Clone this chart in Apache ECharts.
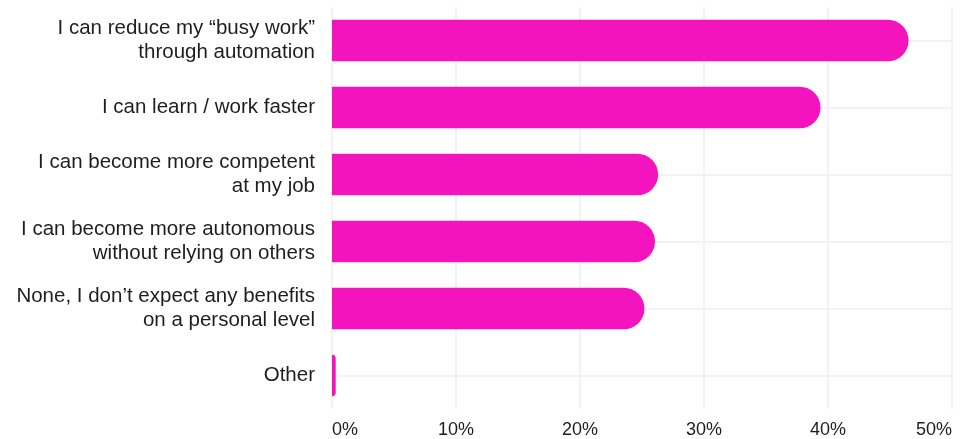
<!DOCTYPE html>
<html>
<head>
<meta charset="utf-8">
<script src="https://cdn.jsdelivr.net/npm/echarts@6/dist/echarts.min.js"></script>
<style>
html,body{margin:0;padding:0;background:#fff;}
#chart{width:966px;height:439px;}
</style>
</head>
<body>
<div id="chart"></div>
<script>
const categories = [
  'I can reduce my \u201cbusy work\u201d\nthrough automation',
  'I can learn / work faster',
  'I can become more competent\nat my job',
  'I can become more autonomous\nwithout relying on others',
  'None, I don\u2019t expect any benefits\non a personal level',
  'Other'
];
const values = [46.5, 39.4, 26.3, 26.05, 25.2, 0.3];
const tickLabels = ['0%', '10%', '20%', '30%', '40%', '50%'];

const FONT = '"Liberation Sans", Arial, sans-serif';
const chart = echarts.init(document.getElementById('chart'), null, {renderer: 'canvas'});
chart.setOption({
  animation: false,
  backgroundColor: '#ffffff',
  grid: {left: 332, right: 14, top: 7, bottom: 27, containLabel: false},
  xAxis: {
    type: 'value', min: 0, max: 50, interval: 10,
    axisLine: {show: false}, axisTick: {show: false},
    splitLine: {show: true, lineStyle: {color: '#EFEFF4', width: 1.5}},
    axisLabel: {
      color: '#1e1e1e', fontSize: 18, fontFamily: FONT, margin: 12,
      alignMinLabel: 'left', alignMaxLabel: 'right',
      formatter: v => tickLabels[Math.round(v / 10)]
    }
  },
  yAxis: {
    type: 'category', data: categories, inverse: true,
    axisLine: {show: false}, axisTick: {show: false},
    splitLine: {show: false},
    axisLabel: {color: '#1e1e1e', fontSize: 20.5, fontFamily: FONT, margin: 17, lineHeight: 24, align: 'right'}
  },
  series: [
    {
      type: 'line', data: [], silent: true, z: 1, symbol: 'none',
      markLine: {
        silent: true, symbol: 'none', label: {show: false}, z: 1,
        lineStyle: {color: '#EFEFF4', width: 1.5, type: 'solid'},
        data: categories.map(c => ({yAxis: c}))
      }
    },
    {
      type: 'bar', data: values, z: 3,
      barWidth: '62%',
      itemStyle: {color: '#F414BE', borderRadius: [0, 21, 21, 0]}
    }
  ]
});
</script>
</body>
</html>
